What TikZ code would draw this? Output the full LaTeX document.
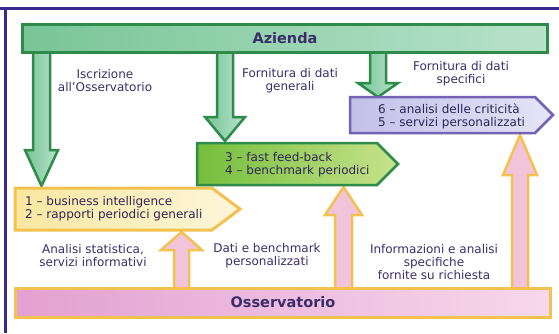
\documentclass[tikz,border=0pt]{standalone}
\usepackage{fontspec}
\setmainfont{DejaVu Sans}
\definecolor{framec}{HTML}{3B2A8E}
\definecolor{gborder}{HTML}{2E8B4A}
\definecolor{gfillL}{HTML}{78C597}
\definecolor{gfillR}{HTML}{B8E2CA}
\definecolor{txt}{HTML}{3A2E6A}
\definecolor{yborder}{HTML}{F2C14E}
\definecolor{yfillL}{HTML}{FAE7A0}
\definecolor{yfillR}{HTML}{FDF6DA}
\definecolor{limeL}{HTML}{74BE3C}
\definecolor{limeR}{HTML}{C8E38C}
\definecolor{pborder}{HTML}{7462B4}
\definecolor{pfillL}{HTML}{C2C0E8}
\definecolor{pfillR}{HTML}{E6E4F7}
\definecolor{pinkL}{HTML}{E3A0D2}
\definecolor{pinkR}{HTML}{F7D8EC}
\definecolor{pinkA}{HTML}{F2C4DC}
\begin{document}
\begin{tikzpicture}[x=1pt,y=-1pt,
  lbl/.style={text=txt, font=\fontsize{12}{13}\selectfont, align=center, inner sep=0pt},
  boxtxt/.style={text=txt!80!black, font=\fontsize{12}{13}\selectfont, align=left, inner sep=0pt, anchor=west},
  bartxt/.style={text=txt, font=\bfseries\fontsize{14.5}{16}\selectfont, inner sep=0pt},
  garrow/.style={draw=gborder, line width=2.5pt, left color=gfillL, right color=gfillR, line join=miter},
  oarrow/.style={draw=yborder, line width=2.5pt, fill=pinkA, line join=miter}]
\useasboundingbox (0,0) rectangle (559,333);
\fill[white] (0,0) rectangle (559,333);
% frame
\draw[framec, line width=3pt] (0,8) -- (559,8);
\draw[framec, line width=3pt] (5,8) -- (5,333);

% down arrows (green)
\draw[garrow] (33,52) -- (33,150) -- (25,150) -- (41.5,186) -- (58,150) -- (50,150) -- (50,52) -- cycle;
\draw[garrow] (217,52) -- (217,117) -- (205,117) -- (225,141) -- (245,117) -- (233,117) -- (233,52) -- cycle;
\draw[garrow] (370,52) -- (370,83) -- (358,83) -- (378,97) -- (398,83) -- (386,83) -- (386,52) -- cycle;

% up arrows (orange/pink)
\draw[oarrow] (174,288) -- (174,250) -- (161,250) -- (181.5,232) -- (202,250) -- (189,250) -- (189,288) -- cycle;
\draw[oarrow] (335,288) -- (335,215) -- (325,215) -- (343.5,187) -- (362,215) -- (352,215) -- (352,288) -- cycle;
\draw[oarrow] (512,288) -- (512,175) -- (503,175) -- (520,135) -- (537,175) -- (528,175) -- (528,288) -- cycle;

% Azienda bar
\draw[draw=gborder, line width=3pt, left color=gfillL, right color=gfillR] (22,24) rectangle (547,52);
\node[bartxt] (azienda) at (285,38) {Azienda};

% Osservatorio bar
\draw[draw=yborder, line width=3pt, left color=pinkL, right color=pinkR] (15,288) rectangle (550,317);
\node[bartxt] (oss) at (283,302.5) {Osservatorio};

% box 1
\draw[draw=yborder, line width=3pt, left color=yfillL, right color=yfillR, line join=miter]
  (15,188) -- (212,188) -- (240,209) -- (212,230) -- (15,230) -- cycle;
\node[boxtxt] (b1) at (25,209) {1 – business intelligence\\2 – rapporti periodici generali};

% box 2
\draw[draw=gborder, line width=2.5pt, left color=limeL, right color=limeR, line join=miter]
  (197,143) -- (377,143) -- (398,164) -- (377,185) -- (197,185) -- cycle;
\node[boxtxt] (b2) at (225,165) {3 – fast feed-back\\4 – benchmark periodici};

% box 3
\draw[draw=pborder, line width=2.5pt, left color=pfillL, right color=pfillR, line join=miter]
  (350,97) -- (535,97) -- (553,115) -- (535,133) -- (350,133) -- cycle;
\node[boxtxt] (b3) at (378,116) {6 – analisi delle criticità\\5 – servizi personalizzati};

% labels
\node[lbl] (l1) at (105,81) {Iscrizione\\all'Osservatorio};
\node[lbl] (l2) at (290,81) {Fornitura di dati\\generali};
\node[lbl] (l3) at (461,74) {Fornitura di dati\\specifici};
\node[lbl] (l4) at (93,256) {Analisi statistica,\\servizi informativi};
\node[lbl] (l5) at (267,256) {Dati e benchmark\\personalizzati};
\node[lbl] (l6) at (434,262) {Informazioni e analisi\\specifiche\\fornite su richiesta};
\end{tikzpicture}
\end{document}
